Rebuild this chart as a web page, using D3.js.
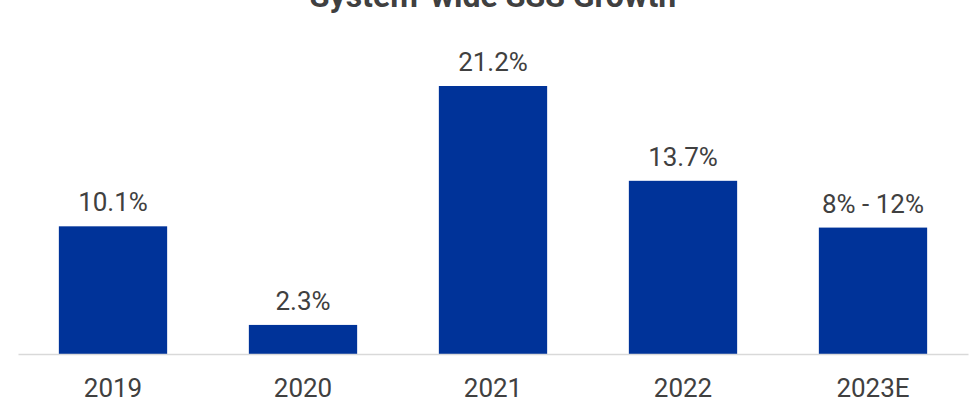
<!DOCTYPE html>
<html>
<head>
<meta charset="utf-8">
<script src="https://cdn.jsdelivr.net/npm/d3@7"></script>
<style>
  body { margin: 0; background: #fff; }
  text { font-family: Roboto, sans-serif; }
</style>
</head>
<body>
<div id="chart"></div>
<script>
const categories = ["2019", "2020", "2021", "2022", "2023E"];
const values = [10.1, 2.3, 21.2, 13.7, 10.0];
const valueLabels = ["10.1%", "2.3%", "21.2%", "13.7%", "8% - 12%"];
const chartTitle = "System-wide SSS Growth";

const buildChart = () => {
    const width = 976;
    const height = 403;
    const baseline = 354;

    const svg = d3.select("#chart")
                  .append("svg")
                  .attr("width", width)
                  .attr("height", height);

    const xScale = d3.scaleBand()
                     .domain(categories)
                     .range([18, 968])
                     .paddingInner(0.43)
                     .paddingOuter(0.215);

    const yScale = d3.scaleLinear()
                     .domain([0, 21.2])
                     .range([baseline, 86]);

    // Title (cut off at top in the original)
    svg.append("text")
       .attr("x", 493)
       .attr("y", 7)
       .attr("text-anchor", "middle")
       .attr("font-size", 32)
       .attr("font-weight", "bold")
       .attr("fill", "#404040")
       .text(chartTitle);

    // Bars
    svg.selectAll("rect.bar")
       .data(values)
       .enter()
       .append("rect")
       .attr("class", "bar")
       .attr("x", (d, i) => xScale(categories[i]))
       .attr("y", d => yScale(d))
       .attr("width", xScale.bandwidth())
       .attr("height", d => baseline - yScale(d))
       .attr("fill", "#003399");

    // Value labels
    svg.selectAll("text.value")
       .data(values)
       .enter()
       .append("text")
       .attr("class", "value")
       .attr("x", (d, i) => xScale(categories[i]) + xScale.bandwidth() / 2)
       .attr("y", d => yScale(d) - 15)
       .attr("text-anchor", "middle")
       .attr("font-size", 26)
       .attr("fill", "#404040")
       .text((d, i) => valueLabels[i]);

    // Axis
    const xAxis = d3.axisBottom(xScale).tickSize(0).tickPadding(0);
    const axisG = svg.append("g")
                     .attr("transform", `translate(0, ${baseline})`)
                     .call(xAxis);
    axisG.select(".domain").attr("stroke", "#d9d9d9").attr("stroke-width", 1.5);
    axisG.selectAll("text")
         .attr("dy", null)
         .attr("y", 43)
         .attr("font-size", 26)
         .attr("font-family", "Roboto, sans-serif")
         .attr("fill", "#404040");
}

buildChart();
</script>
</body>
</html>
